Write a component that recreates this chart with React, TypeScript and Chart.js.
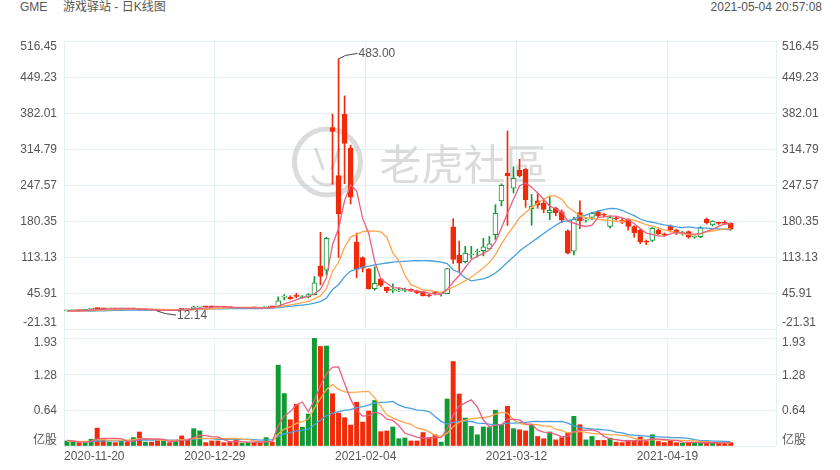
import React, { useEffect, useRef } from 'react';
import { Chart, registerables } from 'chart.js';

Chart.register(...registerables);

// ---------------- data ----------------
const dates: string[] = [
  '2020-11-20', '2020-11-23', '2020-11-24', '2020-11-25', '2020-11-27', '2020-11-30',
  '2020-12-01', '2020-12-02', '2020-12-03', '2020-12-04', '2020-12-07', '2020-12-08',
  '2020-12-09', '2020-12-10', '2020-12-11', '2020-12-14', '2020-12-15', '2020-12-16',
  '2020-12-17', '2020-12-18', '2020-12-21', '2020-12-22', '2020-12-23', '2020-12-24',
  '2020-12-28', '2020-12-29', '2020-12-30', '2020-12-31', '2021-01-04', '2021-01-05',
  '2021-01-06', '2021-01-07', '2021-01-08', '2021-01-11', '2021-01-12', '2021-01-13',
  '2021-01-14', '2021-01-15', '2021-01-19', '2021-01-20', '2021-01-21', '2021-01-22',
  '2021-01-25', '2021-01-26', '2021-01-27', '2021-01-28', '2021-01-29', '2021-02-01',
  '2021-02-02', '2021-02-03', '2021-02-04', '2021-02-05', '2021-02-08', '2021-02-09',
  '2021-02-10', '2021-02-11', '2021-02-12', '2021-02-16', '2021-02-17', '2021-02-18',
  '2021-02-19', '2021-02-22', '2021-02-23', '2021-02-24', '2021-02-25', '2021-02-26',
  '2021-03-01', '2021-03-02', '2021-03-03', '2021-03-04', '2021-03-05', '2021-03-08',
  '2021-03-09', '2021-03-10', '2021-03-11', '2021-03-12', '2021-03-15', '2021-03-16',
  '2021-03-17', '2021-03-18', '2021-03-19', '2021-03-22', '2021-03-23', '2021-03-24',
  '2021-03-25', '2021-03-26', '2021-03-29', '2021-03-30', '2021-03-31', '2021-04-01',
  '2021-04-05', '2021-04-06', '2021-04-07', '2021-04-08', '2021-04-09', '2021-04-12',
  '2021-04-13', '2021-04-14', '2021-04-15', '2021-04-16', '2021-04-19', '2021-04-20',
  '2021-04-21', '2021-04-22', '2021-04-23', '2021-04-26', '2021-04-27', '2021-04-28',
  '2021-04-29', '2021-04-30', '2021-05-03',
];

const opens: number[] = [
  12.5, 12.9, 13.5, 13.3, 15.5, 17.0, 16.9, 16.4, 16.7, 16.2, 16.8, 16.4,
  15.0, 13.4, 14.0, 13.6, 13.2, 13.7, 13.4, 15.8, 15.5, 16.0, 19.5, 20.6,
  21.0, 20.6, 19.9, 19.2, 19.0, 17.35, 17.34, 18.47, 18.18, 19.41, 19.96, 20.42,
  38.09, 38.49, 41.55, 37.37, 39.23, 42.59, 96.73, 88.56, 354.83, 265.0, 379.71, 316.56,
  140.76, 112.01, 91.19, 54.04, 72.41, 56.61, 50.77, 50.01, 50.75, 52.66, 49.77, 48.49,
  41.28, 46.69, 44.7, 44.7, 169.56, 116.9, 104.54, 116.93, 122.51, 125.0, 128.17, 154.89,
  217.71, 269.43, 241.64, 275.0, 277.0, 203.16, 217.84, 214.0, 195.73, 204.0, 197.7, 162.0,
  124.0, 196.0, 182.0, 187.0, 197.7, 192.5, 170.0, 185.0, 182.0, 184.0, 170.0, 163.6,
  142.0, 144.0, 163.6, 156.5, 171.0, 163.6, 157.0, 160.4, 150.0, 151.0, 183.5, 173.0,
  177.0, 177.0, 176.0,
];

const highs: number[] = [
  13.0, 13.5, 13.9, 15.5, 16.6, 18.0, 17.4, 17.0, 17.0, 16.9, 17.0, 17.2,
  15.3, 14.2, 14.2, 13.8, 13.8, 13.9, 13.8, 16.0, 15.9, 21.2, 21.0, 20.9,
  21.5, 21.0, 20.2, 19.4, 19.1, 18.08, 18.98, 19.45, 18.3, 20.65, 20.4, 38.65,
  43.06, 40.75, 45.52, 41.19, 44.75, 76.76, 159.18, 150.0, 380.0, 483.0, 413.98, 322.0,
  158.0, 113.4, 91.5, 95.0, 72.66, 57.0, 62.83, 55.32, 55.24, 53.5, 51.19, 48.87,
  43.72, 48.51, 46.23, 91.71, 184.68, 142.9, 133.2, 133.2, 127.75, 147.87, 151.53, 210.87,
  249.85, 348.5, 281.5, 295.5, 278.0, 230.0, 231.47, 218.88, 227.0, 206.0, 201.0, 164.0,
  187.5, 218.0, 187.0, 197.0, 200.0, 194.0, 190.0, 188.0, 185.0, 185.0, 171.5, 165.0,
  145.0, 168.0, 166.0, 158.0, 173.0, 165.0, 161.0, 162.0, 153.0, 170.0, 186.0, 181.0,
  178.5, 181.0, 177.0,
];

const lows: number[] = [
  12.3, 12.6, 13.0, 13.2, 15.3, 16.0, 16.2, 16.0, 16.0, 16.0, 16.0, 16.2,
  13.2, 13.1, 13.4, 12.14, 12.8, 13.2, 13.1, 14.9, 14.8, 15.6, 19.0, 19.9,
  19.8, 19.5, 19.0, 18.5, 17.15, 17.23, 17.33, 18.02, 17.08, 19.01, 19.32, 20.03,
  33.05, 34.01, 36.64, 36.06, 37.0, 42.32, 61.13, 80.2, 249.0, 112.25, 250.0, 212.0,
  74.22, 85.25, 53.33, 51.09, 58.02, 46.52, 46.55, 48.22, 48.05, 49.04, 44.56, 40.65,
  38.5, 42.4, 40.0, 44.7, 101.0, 86.0, 102.0, 110.7, 113.12, 115.16, 127.5, 146.1,
  208.51, 172.0, 232.6, 262.27, 206.0, 172.35, 204.0, 195.65, 182.66, 190.0, 177.0, 118.75,
  117.01, 166.0, 178.0, 183.0, 187.0, 188.0, 167.0, 182.0, 176.0, 163.0, 150.0, 138.0,
  136.0, 142.0, 155.0, 152.0, 160.0, 155.0, 154.0, 148.0, 148.0, 149.0, 175.0, 171.0,
  174.0, 174.0, 163.0,
];

const closes: number[] = [
  12.8, 13.3, 13.2, 15.2, 16.3, 16.6, 16.5, 16.6, 16.3, 16.8, 16.3, 16.9,
  13.7, 14.0, 13.8, 13.1, 13.6, 13.4, 13.6, 15.5, 15.0, 20.2, 20.5, 20.1,
  20.2, 19.8, 19.4, 18.84, 17.25, 17.37, 18.36, 18.08, 17.69, 19.94, 19.95, 31.4,
  39.91, 35.5, 39.36, 39.12, 43.03, 65.01, 76.79, 147.98, 347.51, 193.6, 325.0, 225.0,
  90.0, 92.41, 53.5, 63.77, 60.0, 50.31, 51.2, 51.1, 52.4, 49.51, 45.94, 40.69,
  40.59, 46.0, 44.97, 91.71, 108.73, 101.74, 120.4, 118.18, 124.18, 132.35, 137.74, 194.5,
  246.9, 265.0, 260.0, 264.5, 220.14, 208.17, 209.81, 201.75, 200.27, 196.0, 181.75, 120.34,
  183.75, 181.0, 183.5, 194.7, 189.8, 191.45, 186.95, 184.5, 177.97, 170.26, 158.36, 141.09,
  140.99, 166.53, 156.44, 154.69, 163.6, 157.5, 158.0, 150.0, 151.0, 168.0, 177.0, 180.4,
  176.0, 176.0, 165.0,
];

// volume, 亿股
const volumes: number[] = [
  0.09, 0.07, 0.06, 0.06, 0.12, 0.32, 0.12, 0.07, 0.06, 0.09, 0.07, 0.15,
  0.25, 0.07, 0.07, 0.10, 0.10, 0.06, 0.09, 0.18, 0.11, 0.31, 0.27, 0.06,
  0.09, 0.09, 0.06, 0.08, 0.10, 0.05, 0.06, 0.06, 0.065, 0.15, 0.07, 1.445,
  0.937, 0.469, 0.747, 0.335, 0.571, 1.972, 1.779, 1.786, 0.934, 0.588, 0.506, 0.374,
  0.782, 0.427, 0.624, 0.813, 0.257, 0.268, 0.339, 0.13, 0.143, 0.09, 0.09, 0.24,
  0.15, 0.2, 0.07, 0.84, 1.51, 0.93, 0.5, 0.35, 0.2, 0.34, 0.33, 0.64,
  0.38, 0.71, 0.31, 0.29, 0.27, 0.38, 0.17, 0.13, 0.25, 0.11, 0.15, 0.24,
  0.53, 0.38, 0.11, 0.17, 0.1, 0.1, 0.14, 0.07, 0.06, 0.1, 0.1, 0.16,
  0.08, 0.2, 0.08, 0.06, 0.1, 0.06, 0.05, 0.06, 0.06, 0.06, 0.06, 0.06,
  0.05, 0.05, 0.06,
];

// the 19 sessions before the first date (only used for the moving averages)
const priorCloses: number[] = [
  13.3, 13.9, 13.5, 12.9, 11.9, 11.3, 11.1, 11.0, 11.9, 11.4,
  11.6, 10.8, 11.0, 11.3, 11.4, 12.0, 12.7, 12.3, 12.4,
];
const priorVolumes: number[] = [
  0.1, 0.12, 0.09, 0.08, 0.1, 0.07, 0.06, 0.05, 0.09, 0.07,
  0.06, 0.08, 0.05, 0.06, 0.07, 0.12, 0.14, 0.08, 0.07,
];

const priceTicks: number[] = [-21.31, 45.91, 113.13, 180.35, 247.57, 314.79, 382.01, 449.23, 516.45];
const volumeTicks: number[] = [0, 0.64, 1.28, 1.93];
const volumeTickLabels: string[] = ['亿股', '0.64', '1.28', '1.93'];
const dateTickIndex: number[] = [0, 25, 50, 75, 100];
const SLOT_COUNT = 118;

// ---------------- style ----------------
const UP = 'rgb(17,153,51)';
const DOWN = 'rgb(240,43,10)';
const MA_COLORS = ['rgb(232,96,128)', 'rgb(255,166,77)', 'rgb(72,160,222)'];
const MA_PERIODS = [5, 10, 20];
const GRID = 'rgb(229,240,248)';
const TEXT = '#555';
const FONT = '12px "Liberation Sans", Arial, "Noto Sans CJK SC", sans-serif';

function movingAverage(values: number[], prior: number[], n: number): number[] {
  const all = prior.concat(values);
  return values.map((_, i) => {
    const end = prior.length + i + 1;
    const start = Math.max(0, end - n);
    let s = 0;
    for (let k = start; k < end; k++) s += all[k];
    return s / (end - start);
  });
}

function drawYLabels(chart: any, scaleId: string, values: number[], labels: string[], edgeShift: number) {
  const ctx = chart.ctx;
  const scale = chart.scales[scaleId];
  const area = chart.chartArea;
  ctx.save();
  ctx.font = FONT;
  ctx.fillStyle = TEXT;
  ctx.textBaseline = 'middle';
  values.forEach((v, i) => {
    let y = scale.getPixelForValue(v);
    if (v === scale.max) y += edgeShift;
    else if (v === scale.min) y -= edgeShift;
    else y += 1;
    ctx.textAlign = 'right';
    ctx.fillText(labels[i], area.left - 7, y);
    ctx.textAlign = 'left';
    ctx.fillText(labels[i], area.right + 6, y);
  });
  ctx.restore();
}

export default function App() {
  const topRef = useRef<HTMLCanvasElement>(null);
  const volRef = useRef<HTMLCanvasElement>(null);

  useEffect(() => {
    const xs = dates.map((_, i) => i + 0.5);
    const up = closes.map((c, i) => c >= opens[i]);
    const candleColor = up.map((u) => (u ? UP : DOWN));

    const wicks = xs.map((x, i) => ({ x, y: [lows[i], highs[i]] }));
    const bodies = xs.map((x, i) => ({ x, y: [opens[i], closes[i]] }));
    const priceMAs = MA_PERIODS.map((n) =>
      movingAverage(closes, priorCloses, n).map((y, i) => ({ x: xs[i], y }))
    );
    const volBars = xs.map((x, i) => ({ x, y: volumes[i] }));
    const volMAs = MA_PERIODS.map((n) =>
      movingAverage(volumes, priorVolumes, n).map((y, i) => ({ x: xs[i], y }))
    );

    const xScale = (showGrid: boolean) => ({
      type: 'linear' as const,
      min: 0,
      max: SLOT_COUNT,
      offset: false,
      display: true,
      grid: { color: GRID, drawTicks: false, offset: false, display: showGrid },
      border: { display: false },
      ticks: { display: false },
      afterBuildTicks: (s: any) => {
        s.ticks = [...dateTickIndex, SLOT_COUNT].map((v) => ({ value: v }));
      },
      afterFit: (s: any) => {
        s.height = 0;
      },
    });

    const yScale = (min: number, max: number, ticks: number[], position: 'left' | 'right', grid: boolean) => ({
      type: 'linear' as const,
      position,
      min,
      max,
      display: true,
      grid: { color: GRID, drawTicks: false, display: grid },
      border: { display: false },
      ticks: { display: false },
      afterBuildTicks: (s: any) => {
        s.ticks = ticks.map((v) => ({ value: v }));
      },
      afterFit: (s: any) => {
        s.width = 64;
      },
    });

    const lineDs = (label: string, data: any[], color: string) => ({
      type: 'line' as const,
      label,
      data,
      borderColor: color,
      backgroundColor: color,
      borderWidth: 1.3,
      pointRadius: 0,
      fill: false,
      tension: 0,
      order: 0,
    });

    const topPlugin = {
      id: 'topDecor',
      beforeDatasetsDraw(chart: any) {
        const ctx = chart.ctx;
        const a = chart.chartArea;
        const cx = a.left + (a.right - a.left) * 0.37;
        const cy = a.top + (a.bottom - a.top) * 0.42;
        ctx.save();
        ctx.strokeStyle = 'rgba(190,190,190,0.55)';
        ctx.lineWidth = 5;
        ctx.beginPath();
        ctx.arc(cx, cy, 33, 0, Math.PI * 2);
        ctx.stroke();
        ctx.lineWidth = 3;
        ctx.beginPath();
        ctx.arc(cx, cy + 6, 17, Math.PI * 0.15, Math.PI * 0.85);
        ctx.stroke();
        ctx.beginPath();
        ctx.moveTo(cx - 12, cy - 14);
        ctx.lineTo(cx - 4, cy + 8);
        ctx.moveTo(cx + 12, cy - 14);
        ctx.lineTo(cx + 4, cy + 8);
        ctx.stroke();
        ctx.font = '42px "Noto Sans CJK SC", sans-serif';
        ctx.fillStyle = 'rgba(190,190,190,0.55)';
        ctx.textAlign = 'left';
        ctx.textBaseline = 'middle';
        ctx.fillText('老虎社區', cx + 52, cy + 2);
        ctx.restore();
      },
      afterDraw(chart: any) {
        const ctx = chart.ctx;
        const a = chart.chartArea;
        const xS = chart.scales.x;
        const yS = chart.scales.y;
        drawYLabels(chart, 'y', priceTicks, priceTicks.map((v) => v.toFixed(2)), 6);

        // frame continues into the gap below the panel
        ctx.save();
        ctx.strokeStyle = GRID;
        ctx.lineWidth = 1;
        [a.left, a.right].forEach((x: number) => {
          ctx.beginPath();
          ctx.moveTo(Math.round(x) + 0.5, a.bottom);
          ctx.lineTo(Math.round(x) + 0.5, chart.height);
          ctx.stroke();
        });
        ctx.restore();

        // max / min annotations
        let iMax = 0;
        let iMin = 0;
        highs.forEach((h, i) => {
          if (h > highs[iMax]) iMax = i;
        });
        lows.forEach((l, i) => {
          if (l < lows[iMin]) iMin = i;
        });
        ctx.save();
        ctx.strokeStyle = '#444';
        ctx.lineWidth = 1;
        ctx.font = FONT;
        ctx.fillStyle = TEXT;
        ctx.textAlign = 'left';
        ctx.textBaseline = 'middle';
        let x = xS.getPixelForValue(xs[iMax]);
        let y = yS.getPixelForValue(highs[iMax]);
        ctx.beginPath();
        ctx.moveTo(x, y);
        ctx.lineTo(x + 7, y - 3.5);
        ctx.lineTo(x + 19, y - 5.5);
        ctx.stroke();
        ctx.fillText(highs[iMax].toFixed(2), x + 20, y - 5.5);
        x = xS.getPixelForValue(xs[iMin]);
        y = yS.getPixelForValue(lows[iMin]);
        ctx.beginPath();
        ctx.moveTo(x, y);
        ctx.lineTo(x + 8, y + 2.5);
        ctx.lineTo(x + 18.5, y + 4);
        ctx.stroke();
        ctx.fillText(lows[iMin].toFixed(2), x + 19.5, y + 5);
        ctx.restore();
      },
    };

    const volPlugin = {
      id: 'volDecor',
      afterDraw(chart: any) {
        const ctx = chart.ctx;
        const a = chart.chartArea;
        const xS = chart.scales.x;
        drawYLabels(chart, 'y', volumeTicks, volumeTickLabels, 5);
        ctx.save();
        ctx.strokeStyle = GRID;
        ctx.lineWidth = 1;
        [a.left, a.right].forEach((x: number) => {
          ctx.beginPath();
          ctx.moveTo(Math.round(x) + 0.5, 0);
          ctx.lineTo(Math.round(x) + 0.5, a.top);
          ctx.stroke();
        });
        ctx.font = FONT;
        ctx.fillStyle = TEXT;
        ctx.textBaseline = 'middle';
        dateTickIndex.forEach((idx) => {
          const px = xS.getPixelForValue(idx);
          ctx.textAlign = idx === 0 ? 'left' : 'center';
          ctx.fillText(dates[idx], px, a.bottom + 11);
        });
        ctx.restore();
      },
    };

    const top = new Chart(topRef.current as HTMLCanvasElement, {
      type: 'bar',
      data: {
        datasets: [
          lineDs('MA5', priceMAs[0], MA_COLORS[0]),
          lineDs('MA10', priceMAs[1], MA_COLORS[1]),
          lineDs('MA20', priceMAs[2], MA_COLORS[2]),
          {
            type: 'bar',
            label: 'body',
            data: bodies as any,
            backgroundColor: up.map((u) => (u ? '#ffffff' : DOWN)),
            borderColor: candleColor,
            borderWidth: 1,
            borderSkipped: false,
            barThickness: 5,
            minBarLength: 1,
            grouped: false,
            order: 5,
          } as any,
          {
            type: 'bar',
            label: 'wick',
            data: wicks as any,
            backgroundColor: candleColor,
            borderWidth: 0,
            barThickness: 1,
            grouped: false,
            order: 6,
          } as any,
        ],
      },
      options: {
        responsive: false,
        animation: false,
        events: [],
        layout: { padding: { top: 41, bottom: 6, left: 0, right: 0 } },
        plugins: { legend: { display: false }, tooltip: { enabled: false } },
        scales: {
          x: xScale(true) as any,
          y: yScale(-21.31, 516.45, priceTicks, 'left', true) as any,
          yR: yScale(-21.31, 516.45, priceTicks, 'right', false) as any,
        },
      },
      plugins: [topPlugin],
    });

    const vol = new Chart(volRef.current as HTMLCanvasElement, {
      type: 'bar',
      data: {
        datasets: [
          lineDs('VMA5', volMAs[0], MA_COLORS[0]),
          lineDs('VMA10', volMAs[1], MA_COLORS[1]),
          lineDs('VMA20', volMAs[2], MA_COLORS[2]),
          {
            type: 'bar',
            label: 'volume',
            data: volBars as any,
            backgroundColor: candleColor,
            borderWidth: 0,
            barThickness: 4.3,
            grouped: false,
            order: 5,
          } as any,
        ],
      },
      options: {
        responsive: false,
        animation: false,
        events: [],
        layout: { padding: { top: 3, bottom: 24, left: 0, right: 0 } },
        plugins: { legend: { display: false }, tooltip: { enabled: false } },
        scales: {
          x: xScale(true) as any,
          y: yScale(0, 1.93, volumeTicks, 'left', true) as any,
          yR: yScale(0, 1.93, volumeTicks, 'right', false) as any,
        },
      },
      plugins: [volPlugin],
    });

    return () => {
      top.destroy();
      vol.destroy();
    };
  }, []);

  const headText: React.CSSProperties = {
    position: 'absolute',
    top: 0,
    lineHeight: '15px',
    fontSize: 12,
    color: TEXT,
    fontFamily: '"Liberation Sans", Arial, "Noto Sans CJK SC", sans-serif',
    whiteSpace: 'nowrap',
  };

  return (
    <div style={{ position: 'absolute', left: 0, top: 0, width: 840, height: 470, background: '#fff', overflow: 'hidden' }}>
      <div style={{ ...headText, left: 20 }}>GME</div>
      <div style={{ ...headText, left: 63 }}>游戏驿站 - 日K线图</div>
      <div style={{ ...headText, right: 18 }}>2021-05-04 20:57:08</div>
      <canvas ref={topRef} width={840} height={335} style={{ position: 'absolute', left: 0, top: 0 }} />
      <canvas ref={volRef} width={840} height={135} style={{ position: 'absolute', left: 0, top: 335 }} />
    </div>
  );
}
